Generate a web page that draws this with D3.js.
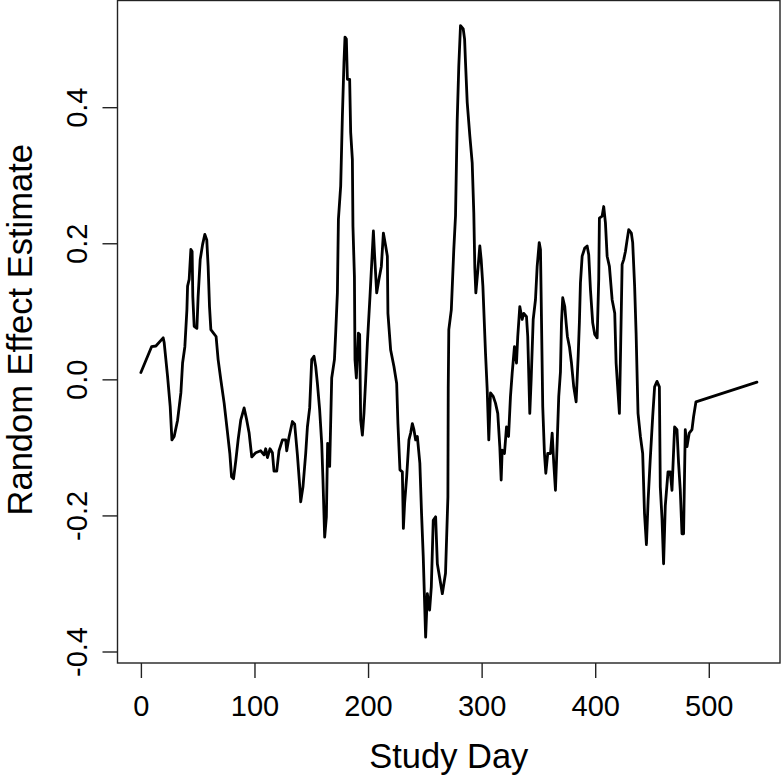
<!DOCTYPE html>
<html>
<head>
<meta charset="utf-8">
<script src="https://cdn.jsdelivr.net/npm/d3@7"></script>
<style>
  html, body { margin: 0; padding: 0; background: #fff; }
  svg { display: block; }
  text { font-family: "Liberation Sans", Arial, sans-serif; fill: #000; }
</style>
</head>
<body>
<div id="chart"></div>
<script>
// ---- data ----
const studyDay = [
  0, 9.4, 13.2, 19.6, 20.5, 23.5, 25.8, 27.3, 29.3, 32.3, 35.2, 36.7, 38.7, 40.5, 41.1, 42.5, 44, 45.1, 45.7, 46.9,
  49.3, 50.4, 52.2, 54.3, 56.3, 58, 59.2, 60.4, 61.6, 63.9, 66.2, 68, 70.4, 73.3, 76.3, 78.3, 79.8, 81.6, 83.6, 85.6,
  87.9, 90.9, 93.2, 95.3, 97.6, 101.1, 105.5, 108.4, 109.9, 111.4, 113.7, 115.8, 117.2, 119.6, 121.6, 124.6, 127.5, 128.4, 130.4, 133.4,
  135.4, 137.8, 140.1, 140.7, 142.7, 145.1, 146.6, 148.6, 150.4, 152.4, 153.9, 155.4, 157.4, 159.2, 160.3, 161.8, 163.3, 164.4, 166.2, 168,
  170.4, 171.5, 173, 173.9, 175.9, 177.4, 178.8, 179.7, 180.9, 181.8, 183.8, 184.7, 186.2, 186.7, 188, 188.5, 189.7, 191.5, 192.6, 193.5,
  195, 196.4, 197.9, 199.4, 201.7, 204.7, 205.8, 207.6, 209.6, 211.7, 213.5, 215.5, 217, 217.5, 219.9, 222.8, 225.2, 226.3, 228.1, 230.2,
  231.1, 232.2, 234, 236, 237.5, 239, 240.4, 241.9, 243.4, 245.6, 247.1, 248.6, 250.7, 252.2, 254.2, 255.7, 257.4, 259.5, 261, 263.2,
  265.4, 268.2, 270.3, 270.6, 271.1, 273.3, 275.5, 277, 278.5, 279.9, 281.4, 283.8, 285, 285.8, 287.3, 289.6, 291.7, 293.1, 294, 294.9,
  296.7, 298.4, 299.6, 301.1, 303.4, 304.9, 306.3, 307.8, 310.2, 312.2, 314.2, 316, 317.2, 318.1, 320.1, 321.9, 323.7, 325.4, 326.9, 328.9,
  330.7, 331.8, 333.6, 335.7, 337.1, 339.5, 340.6, 342.4, 343.6, 345.4, 347.4, 348.9, 350.7, 351.8, 352.7, 353.8, 355.3, 356.5, 358.2, 360.6,
  362.1, 363.5, 365, 366.5, 367.9, 369.4, 370.3, 371.4, 373.2, 374.4, 375.5, 377.3, 379.1, 381.1, 383.2, 385, 386.1, 387, 388.5, 390.8,
  392.9, 394.3, 395.8, 397.8, 399.6, 401.7, 403.1, 403.7, 406.1, 407.5, 409, 410.5, 412.5, 414.9, 417.2, 418.4, 420.1, 421.3, 422.4, 423.7,
  425.1, 426.6, 428.1, 429.5, 431.8, 433, 434.7, 436, 437.7, 439.8, 441.8, 443.4, 445.1, 446.6, 448.4, 450.6, 452.3, 454.4, 456.5, 457.3,
  458.8, 460.2, 461.7, 464.1, 466.1, 467.6, 469.9, 472, 473.4, 474.9, 476.4, 477.8, 479.3, 480.8, 482.8, 485.2, 486.6, 488.7, 542.4
];
const effectEstimate = [
  0.010, 0.048, 0.049, 0.061, 0.054, 0.004, -0.040, -0.089, -0.084, -0.060, -0.020, 0.024, 0.048, 0.102, 0.137, 0.147, 0.191, 0.188, 0.122, 0.078,
  0.075, 0.122, 0.176, 0.198, 0.213, 0.205, 0.166, 0.107, 0.073, 0.068, 0.063, 0.029, -0.001, -0.035, -0.079, -0.109, -0.143, -0.146, -0.119, -0.089,
  -0.060, -0.042, -0.060, -0.079, -0.114, -0.108, -0.105, -0.111, -0.102, -0.115, -0.102, -0.108, -0.135, -0.135, -0.105, -0.089, -0.089, -0.105, -0.085, -0.062,
  -0.066, -0.111, -0.163, -0.180, -0.158, -0.109, -0.070, -0.042, 0.029, 0.034, 0.019, -0.006, -0.045, -0.094, -0.148, -0.232, -0.202, -0.094, -0.128, 0.002,
  0.029, 0.068, 0.127, 0.235, 0.284, 0.387, 0.466, 0.503, 0.500, 0.441, 0.441, 0.363, 0.323, 0.225, 0.151, 0.029, 0.002, 0.068, 0.066, -0.060,
  -0.082, -0.050, -0.001, 0.053, 0.122, 0.218, 0.181, 0.127, 0.147, 0.166, 0.215, 0.196, 0.181, 0.097, 0.043, 0.019, -0.006, -0.065, -0.133, -0.136,
  -0.219, -0.182, -0.143, -0.089, -0.079, -0.065, -0.074, -0.089, -0.084, -0.123, -0.197, -0.261, -0.379, -0.315, -0.339, -0.305, -0.207, -0.202, -0.271, -0.293,
  -0.315, -0.285, -0.173, -0.013, 0.073, 0.102, 0.191, 0.240, 0.381, 0.461, 0.520, 0.515, 0.500, 0.466, 0.407, 0.358, 0.318, 0.245, 0.164, 0.127,
  0.161, 0.196, 0.176, 0.137, 0.039, -0.015, -0.089, -0.020, -0.025, -0.035, -0.050, -0.099, -0.148, -0.104, -0.109, -0.070, -0.084, -0.025, 0.009, 0.048,
  0.024, 0.063, 0.107, 0.088, 0.097, 0.092, 0.063, -0.050, -0.001, 0.088, 0.117, 0.166, 0.201, 0.191, 0.088, -0.040, -0.109, -0.138, -0.109, -0.109,
  -0.079, -0.123, -0.163, -0.094, -0.025, 0.011, 0.083, 0.120, 0.107, 0.083, 0.063, 0.048, 0.024, -0.011, -0.033, 0.034, 0.085, 0.142, 0.181, 0.193,
  0.196, 0.183, 0.132, 0.083, 0.066, 0.061, 0.147, 0.237, 0.240, 0.254, 0.230, 0.181, 0.166, 0.117, 0.097, 0.024, -0.020, -0.050, 0.048, 0.169,
  0.176, 0.188, 0.205, 0.220, 0.215, 0.201, 0.137, 0.068, -0.050, -0.084, -0.109, -0.197, -0.243, -0.177, -0.119, -0.055, -0.011, -0.003, -0.011, -0.158,
  -0.204, -0.271, -0.186, -0.136, -0.136, -0.163, -0.070, -0.074, -0.123, -0.163, -0.227, -0.227, -0.074, -0.099, -0.079, -0.074, -0.055, -0.033, -0.004
];
const xTicks = [0, 100, 200, 300, 400, 500];
const yTicks = [-0.4, -0.2, 0.0, 0.2, 0.4];
const yTickLabels = ["-0.4", "-0.2", "0.0", "0.2", "0.4"];
const xLabel = "Study Day";
const yLabel = "Random Effect Estimate";

const W = 781, H = 776;
const box = { left: 117.5, right: 780, top: 0.5, bottom: 663 };

const svg = d3.select("#chart").append("svg").attr("width", W).attr("height", H);

const x = d3.scaleLinear().domain([-20.6, 562.7]).range([box.left, box.right]);
const y = d3.scaleLinear().domain([-0.4169, 0.5568]).range([box.bottom, box.top]);

const pts = studyDay.map((d, i) => [d, effectEstimate[i]]);

// line
svg.append("path")
  .datum(pts)
  .attr("fill", "none")
  .attr("stroke", "#000")
  .attr("stroke-width", 2.8)
  .attr("stroke-linejoin", "round")
  .attr("stroke-linecap", "round")
  .attr("d", d3.line().x(d => x(d[0])).y(d => y(d[1])));

// box
svg.append("rect")
  .attr("x", box.left).attr("y", box.top)
  .attr("width", box.right - box.left).attr("height", box.bottom - box.top)
  .attr("fill", "none").attr("stroke", "#222").attr("stroke-width", 1.4);

// x axis
const xAxis = d3.axisBottom(x).tickValues(xTicks).tickSize(15).tickPadding(10).tickFormat(d3.format("d"));
const gx = svg.append("g").attr("transform", `translate(0,${box.bottom})`).call(xAxis);
gx.select(".domain").remove();
gx.selectAll(".tick line").attr("stroke", "#222").attr("stroke-width", 1.4);
gx.selectAll(".tick text")
  .attr("font-family", "'Liberation Sans', Arial, sans-serif")
  .attr("font-size", 29).attr("fill", "#000")
  .attr("dy", null).attr("y", 53);

// y axis
const yAxis = d3.axisLeft(y).tickValues(yTicks).tickSize(15).tickFormat((d, i) => yTickLabels[i]);
const gy = svg.append("g").attr("transform", `translate(${box.left},0)`).call(yAxis);
gy.select(".domain").remove();
gy.selectAll(".tick line").attr("stroke", "#222").attr("stroke-width", 1.4);
gy.selectAll(".tick text")
  .attr("font-family", "'Liberation Sans', Arial, sans-serif")
  .attr("font-size", 29).attr("fill", "#000")
  .attr("x", null).attr("dy", null)
  .attr("text-anchor", "middle")
  .attr("transform", "translate(-31,0) rotate(-90)");

// axis titles
svg.append("text")
  .attr("x", (box.left + box.right) / 2).attr("y", 768)
  .attr("text-anchor", "middle").attr("font-size", 34.5)
  .text(xLabel);

svg.append("text")
  .attr("transform", `translate(32,${(box.top + box.bottom) / 2 - 2}) rotate(-90)`)
  .attr("text-anchor", "middle").attr("font-size", 34.5)
  .text(yLabel);
</script>
</body>
</html>
